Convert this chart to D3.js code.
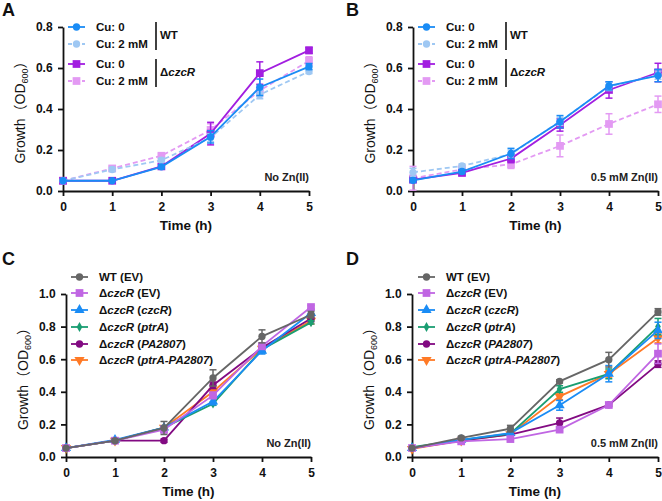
<!DOCTYPE html>
<html><head><meta charset="utf-8">
<script src="https://cdn.jsdelivr.net/npm/d3@7"></script>
<style>body{margin:0;background:#fff}svg{display:block}text{font-family:"Liberation Sans",Arial,sans-serif;font-weight:bold}</style>
</head><body><svg id="c" width="662" height="501"></svg>
<script>
const times = [0,1,2,3,4,5];
const yTicksAB = [0,0.2,0.4,0.6,0.8];
const yTicksCD = [0,0.2,0.4,0.6,0.8,1.0];
const legendAB = ["Cu: 0","Cu: 2 mM","Cu: 0","Cu: 2 mM"];
const legendCD = [["WT (EV)",""],["ΔczcR","EV"],["ΔczcR","czcR"],["ΔczcR","ptrA"],["ΔczcR","PA2807"],["ΔczcR","ptrA-PA2807"]];
// Panel A (No Zn)
const aWT0 = [0.05,0.05,0.118,0.264,0.506,0.607];
const aWT2 = [0.05,0.105,0.15,0.26,0.47,0.583];
const aD0  = [0.05,0.05,0.12,0.28,0.575,0.686];
const aD2  = [0.05,0.11,0.172,0.298,0.49,0.635];
const aWT0e = [0,0,0.01,0.03,0.04,0.015];
const aWT2e = [0,0.01,0.01,0.02,0.02,0.01];
const aD0e  = [0,0,0.01,0.055,0.055,0.015];
const aD2e  = [0,0.01,0.01,0.03,0.03,0.02];
// Panel B (0.5 mM Zn)
const bWT0 = [0.052,0.095,0.183,0.338,0.513,0.563];
const bWT2 = [0.091,0.122,0.18,0.34,0.51,0.565];
const bD0  = [0.055,0.088,0.158,0.322,0.493,0.578];
const bD2  = [0.062,0.105,0.13,0.22,0.327,0.423];
const bWT0e = [0.01,0.01,0.025,0.03,0.02,0.03];
const bWT2e = [0.02,0.01,0.02,0.02,0.02,0.02];
const bD0e  = [0.01,0.01,0.02,0.03,0.04,0.045];
const bD2e  = [0.058,0.02,0.02,0.053,0.05,0.04];
// Panel C (No Zn)
const cWT = [0.055,0.10,0.178,0.485,0.74,0.873];
const cEV = [0.055,0.10,0.168,0.378,0.68,0.92];
const cCzcR = [0.055,0.105,0.18,0.34,0.652,0.883];
const cPtrA = [0.055,0.10,0.18,0.327,0.66,0.826];
const cPA = [0.055,0.10,0.10,0.44,0.67,0.85];
const cPtrPA = [0.055,0.10,0.18,0.40,0.665,0.836];
const cWTe = [0,0.01,0.04,0.05,0.04,0.02];
const cEVe = [0,0.01,0.02,0.02,0.02,0.01];
const cCzcRe = [0,0.01,0.01,0.02,0.02,0.02];
const cPtrAe = [0,0.01,0.01,0.01,0.02,0.01];
const cPAe = [0,0.01,0.01,0.02,0.02,0.02];
const cPtrPAe = [0,0.01,0.01,0.02,0.02,0.02];
// Panel D (0.5 mM Zn)
const dWT = [0.055,0.117,0.174,0.464,0.597,0.89];
const dEV = [0.055,0.096,0.11,0.168,0.319,0.634];
const dCzcR = [0.055,0.105,0.147,0.317,0.511,0.777];
const dPtrA = [0.06,0.105,0.143,0.417,0.51,0.80];
const dPA = [0.055,0.10,0.137,0.209,0.32,0.57];
const dPtrPA = [0.05,0.10,0.14,0.372,0.51,0.73];
const dWTe = [0,0.01,0.02,0.01,0.045,0.02];
const dEVe = [0,0,0.01,0.01,0.01,0.06];
const dCzcRe = [0,0.01,0.01,0.03,0.05,0.05];
const dPtrAe = [0,0.01,0.01,0.02,0.03,0.05];
const dPAe = [0,0.01,0.01,0.03,0.01,0.02];
const dPtrPAe = [0,0.01,0.01,0.02,0.02,0.03];

const svg = d3.select("#c");
const styAB = [
  {color:"#1a8cf5", dash:null, shape:"circle"},
  {color:"#9fc8f3", dash:"5,3", shape:"circle"},
  {color:"#a21ee0", dash:null, shape:"square"},
  {color:"#e39af3", dash:"5,3", shape:"square"}];
const styCD = [
  {color:"#666666", dash:null, shape:"circle"},
  {color:"#c066e3", dash:null, shape:"square"},
  {color:"#1a8cf5", dash:null, shape:"triangle"},
  {color:"#1a9e72", dash:null, shape:"diamond"},
  {color:"#820a82", dash:null, shape:"circle"},
  {color:"#ff7a26", dash:null, shape:"triangleDown"}];
function sym(shape){
  const m = {circle:[d3.symbolCircle,42],square:[d3.symbolSquare,60],triangle:[d3.symbolTriangle,45],diamond:[d3.symbolDiamond,28],triangleDown:[d3.symbolTriangle,45]};
  const s = m[shape];
  return d3.symbol().type(s[0]).size(s[1])();
}
function marker(g,x,y,st){
  g.append("path").attr("d",sym(st.shape)).attr("fill",st.color)
   .attr("transform",`translate(${x},${y})`+(st.shape==="triangleDown"?" rotate(180)":""));
}
function panel(o){
  const g = svg.append("g");
  const x = d3.scaleLinear().domain([0,5]).range([o.x0,o.x1]);
  const y = d3.scaleLinear().domain([0,o.ymax]).range([o.y0,o.y1]);
  const ax = g.append("g").attr("transform",`translate(0,${o.y0})`).call(d3.axisBottom(x).tickValues(times).tickFormat(d3.format("d")).tickSize(5).tickSizeOuter(0));
  const ay = g.append("g").attr("transform",`translate(${o.x0},0)`).call(d3.axisLeft(y).tickValues(o.yticks).tickFormat(d3.format(".1f")).tickSize(5).tickSizeOuter(0));
  [ax,ay].forEach(a=>{a.select(".domain").attr("stroke","#111").attr("stroke-width",1.8);
    a.selectAll(".tick line").attr("stroke","#111").attr("stroke-width",1.8);
    a.selectAll(".tick text").attr("font-size",12).attr("fill","#111").style("font-family","Liberation Sans, Arial").style("font-weight","bold");});
  ax.selectAll(".tick text").attr("dy","1.0em");
  ay.selectAll(".tick text").attr("dx","-0.2em");
  g.append("text").attr("x",(o.x0+o.x1)/2).attr("y",o.y0+39).attr("text-anchor","middle").attr("font-size",13.5).attr("fill","#111").text("Time (h)");
  const yt = g.append("text").attr("transform",`translate(${o.x0-38},${(o.y0+o.y1)/2}) rotate(-90)`).attr("text-anchor","middle").attr("font-size",14).attr("fill","#111").style("font-weight","normal");
  yt.append("tspan").text("Growth");
  yt.append("tspan").style("font-family","Noto Sans CJK SC").text("（");
  yt.append("tspan").text("OD");
  yt.append("tspan").attr("font-size",9).attr("dy",3).text("600");
  yt.append("tspan").attr("dy",-3).style("font-family","Noto Sans CJK SC").text("）");
  g.append("text").attr("x",o.lx).attr("y",o.ly).attr("font-size",18).attr("fill","#111").text(o.letter);
  g.append("text").attr("x",o.x1).attr("y",o.y0-10).attr("text-anchor","end").attr("font-size",11).attr("fill","#222").text(o.note);
  const line = d3.line().x((d,i)=>x(times[i])).y(d=>y(d));
  for(let k=o.series.length-1;k>=0;k--){
    const st=o.sty[k], vals=o.series[k], errs=o.errs[k];
    const sg=g.append("g");
    sg.append("path").datum(vals).attr("d",line).attr("fill","none").attr("stroke",st.color).attr("stroke-width",1.8).attr("stroke-dasharray",st.dash);
    vals.forEach((v,i)=>{
      const e=errs[i]; if(e>0){const cx=x(times[i]);
        sg.append("line").attr("x1",cx).attr("x2",cx).attr("y1",y(v-e)).attr("y2",y(v+e)).attr("stroke",st.color).attr("stroke-width",1.5);
        [v-e,v+e].forEach(w=>sg.append("line").attr("x1",cx-3.5).attr("x2",cx+3.5).attr("y1",y(w)).attr("y2",y(w)).attr("stroke",st.color).attr("stroke-width",1.5));}
      marker(sg,x(times[i]),y(v),st);
    });
  }
  o.legend.forEach((lab,k)=>{
    const st=o.sty[k], ly=o.legY[k], lx=o.legX;
    g.append("line").attr("x1",lx).attr("x2",lx+17).attr("y1",ly).attr("y2",ly).attr("stroke",st.color).attr("stroke-width",1.8).attr("stroke-dasharray",st.dash?"4,3":null);
    marker(g,lx+8.5,ly,st);
    const t=g.append("text").attr("x",lx+28).attr("y",ly+4).attr("font-size",11.5).attr("fill","#111");
    if(Array.isArray(lab)){
      if(lab[1]===""){t.text(lab[0]);}
      else{t.append("tspan").text("Δ");t.append("tspan").style("font-style","italic").text("czcR");
        t.append("tspan").text(" (");t.append("tspan").style("font-style",lab[1]==="EV"?"normal":"italic").text(lab[1]);t.append("tspan").text(")");}
    } else t.text(lab);
  });
  if(o.brackets){
    const bx=o.legX+88;
    [[0,1,"WT"],[2,3,"czcR"]].forEach(([a,b,lab])=>{
      g.append("line").attr("x1",bx).attr("x2",bx).attr("y1",o.legY[a]-5).attr("y2",o.legY[b]+6).attr("stroke","#111").attr("stroke-width",1.6);
      const t=g.append("text").attr("x",bx+4).attr("y",(o.legY[a]+o.legY[b])/2+3).attr("font-size",11.5).attr("fill","#111");
      if(lab==="WT") t.text("WT"); else {t.append("tspan").text("Δ");t.append("tspan").style("font-style","italic").text("czcR");}
    });
  }
}
panel({letter:"A",lx:2,ly:16,x0:63,x1:309,y0:191,y1:27,ymax:0.8,yticks:yTicksAB,note:"No Zn(II)",
  series:[aWT0,aWT2,aD0,aD2],errs:[aWT0e,aWT2e,aD0e,aD2e],sty:styAB,legend:legendAB,legX:68,legY:[27,44,64,81],brackets:true});
panel({letter:"B",lx:346,ly:16,x0:413,x1:658,y0:191,y1:27,ymax:0.8,yticks:yTicksAB,note:"0.5 mM Zn(II)",
  series:[bWT0,bWT2,bD0,bD2],errs:[bWT0e,bWT2e,bD0e,bD2e],sty:styAB,legend:legendAB,legX:418,legY:[27,44,64,81],brackets:true});
panel({letter:"C",lx:2,ly:265,x0:66,x1:311,y0:457,y1:294,ymax:1.0,yticks:yTicksCD,note:"No Zn(II)",
  series:[cWT,cEV,cCzcR,cPtrA,cPA,cPtrPA],errs:[cWTe,cEVe,cCzcRe,cPtrAe,cPAe,cPtrPAe],sty:styCD,legend:legendCD,legX:71,legY:[277,293,310,327,344,360]});
panel({letter:"D",lx:346,ly:265,x0:412,x1:658,y0:457,y1:294,ymax:1.0,yticks:yTicksCD,note:"0.5 mM Zn(II)",
  series:[dWT,dEV,dCzcR,dPtrA,dPA,dPtrPA],errs:[dWTe,dEVe,dCzcRe,dPtrAe,dPAe,dPtrPAe],sty:styCD,legend:legendCD,legX:418,legY:[277,293,310,327,344,360]});
</script></body></html>
